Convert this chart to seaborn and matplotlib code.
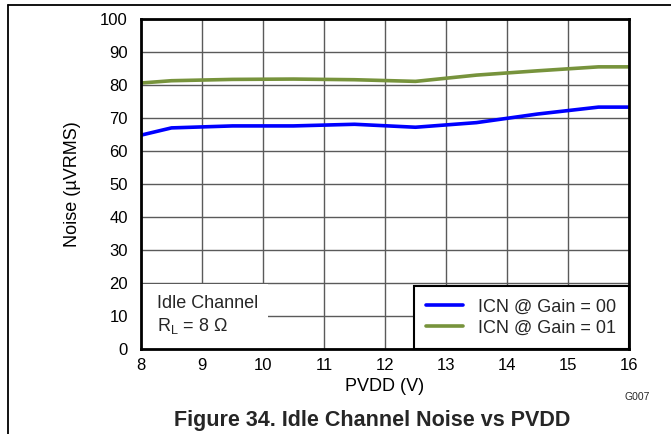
import matplotlib
matplotlib.use('Agg')
from matplotlib import pyplot as plt
from matplotlib.patches import Rectangle
import pandas as pd
import seaborn as sns

# PVDD sweep (V) and idle channel noise (uVRMS)
pvdd = [8, 8.5, 9.5, 10.5, 11.5, 12.5, 13.5, 14.5, 15.5, 16]
icn_gain00 = [64.8, 67.0, 67.6, 67.6, 68.1, 67.2, 68.6, 71.2, 73.3, 73.3]
icn_gain01 = [80.6, 81.3, 81.7, 81.8, 81.6, 81.1, 83.0, 84.3, 85.5, 85.5]
series_names = ['ICN @ Gain = 00', 'ICN @ Gain = 01']
series_colors = ['#0000FF', '#77933C']
x_ticks = [8, 9, 10, 11, 12, 13, 14, 15, 16]
y_ticks = [0, 10, 20, 30, 40, 50, 60, 70, 80, 90, 100]

df = pd.concat([
    pd.DataFrame({'PVDD': pvdd, 'Noise': icn_gain00, 'Series': series_names[0]}),
    pd.DataFrame({'PVDD': pvdd, 'Noise': icn_gain01, 'Series': series_names[1]}),
])

sns.set_theme(style='white')
plt.rcParams['font.family'] = ['Liberation Sans', 'DejaVu Sans']

fig = plt.figure(figsize=(6.71, 4.34), dpi=100)
ax = fig.add_axes([0.2101, 0.1959, 0.7273, 0.7603])

sns.lineplot(data=df, x='PVDD', y='Noise', hue='Series', palette=series_colors,
             linewidth=2.6, ax=ax, legend=False, zorder=3)

ax.set_xlim(8, 16)
ax.set_ylim(0, 100)
ax.set_xticks(x_ticks)
ax.set_yticks(y_ticks)
ax.tick_params(axis='both', length=0, labelsize=12, colors='black')
ax.tick_params(axis='x', pad=6.5)
ax.tick_params(axis='y', pad=9.5)
ax.grid(True, color='#5a5a5a', linewidth=1)
ax.set_axisbelow(True)
for s in ax.spines.values():
    s.set_color('black')
    s.set_linewidth(2)
    s.set_zorder(5)

ax.set_xlabel('PVDD (V)', fontsize=13, color='black')
ax.set_ylabel('Noise (\u00b5VRMS)', fontsize=13, color='black')
ax.xaxis.set_label_coords(0.5, -0.088)
ax.yaxis.set_label_coords(-0.123, 0.5)

# white area behind the condition text
ax.add_patch(Rectangle((0, 0), 0.26, 0.197, transform=ax.transAxes,
                       facecolor='white', edgecolor='none', zorder=2))
ax.text(0.033, 0.139, 'Idle Channel', transform=ax.transAxes, fontsize=13,
        va='center', ha='left', zorder=4)
ax.text(0.033, 0.07, 'R$_\\mathregular{L}$ = 8 \u03a9', transform=ax.transAxes,
        fontsize=13, va='center', ha='left', zorder=4)

handles = [plt.Line2D([], [], color=c, lw=2.6) for c in series_colors]
leg = ax.legend(handles, series_names, loc='lower left',
                bbox_to_anchor=(0.559, 0, 0.441, 0.2), mode='expand',
                borderaxespad=0, fontsize=13, handlelength=2.0,
                handletextpad=0.85, labelspacing=0.22, borderpad=0.7,
                fancybox=False, framealpha=1, edgecolor='black')
leg.get_frame().set_linewidth(1.5)
leg.set_zorder(6)

fig.text(0.9687, 0.085, 'G007', fontsize=7.5, ha='right', va='center')
fig.text(0.554, 0.032, 'Figure 34. Idle Channel Noise vs PVDD', fontsize=15.5,
         fontweight='bold', ha='center', va='center')

# page frame lines
fig.add_artist(plt.Line2D([0.012, 1], [0.988, 0.988], color='black', lw=1.3,
                          transform=fig.transFigure))
fig.add_artist(plt.Line2D([0.012, 0.012], [0, 0.988], color='black', lw=1.3,
                          transform=fig.transFigure))

fig.savefig('out.png', dpi=100)
